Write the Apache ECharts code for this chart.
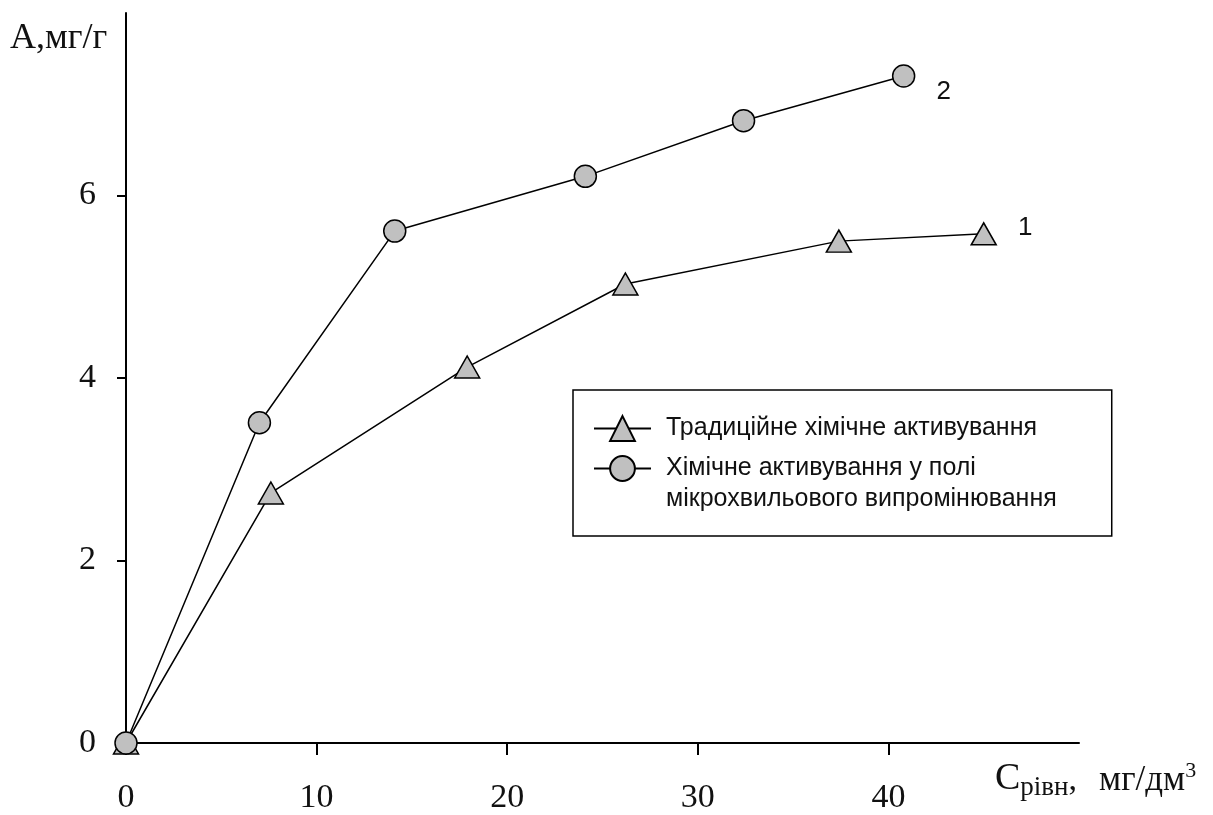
<!DOCTYPE html>
<html>
<head>
<meta charset="utf-8">
<script src="https://cdn.jsdelivr.net/npm/echarts@6/dist/echarts.min.js"></script>
<style>
html,body{margin:0;padding:0;background:#fff;}
#chart{width:1213px;height:815px;}
</style>
</head>
<body>
<div id="chart"></div>
<script>
// Data
var seriesNames = ['Традиційне хімічне активування', 'Хімічне активування у полі\nмікрохвильового випромінювання'];
var curveLabels = ['1', '2'];
var x1 = [0, 7.6, 17.9, 26.2, 37.4, 45.0];
var y1 = [0, 2.74, 4.12, 5.03, 5.50, 5.58];
var x2 = [0, 7.0, 14.1, 24.1, 32.4, 40.8];
var y2 = [0, 3.51, 5.61, 6.21, 6.82, 7.31];
var xTicks = [0, 10, 20, 30, 40];
var yTicks = [0, 2, 4, 6];

function pairs(xs, ys, lbl, off) {
  return xs.map(function (x, i) {
    var d = { value: [x, ys[i]] };
    if (i === xs.length - 1) {
      d.label = { show: true, formatter: lbl, position: 'right', offset: off,
        fontFamily: 'Liberation Sans', fontSize: 26, color: '#111' };
    }
    return d;
  });
}

var chart = echarts.init(document.getElementById('chart'), null, { renderer: 'canvas' });
var serif = 'Liberation Serif';
chart.setOption({
  animation: false,
  backgroundColor: '#fff',
  grid: { left: 126, top: 13, width: 953, height: 732, containLabel: false },
  xAxis: {
    type: 'value', min: 0, max: 50, interval: 10,
    axisLine: { show: true, onZero: false, lineStyle: { color: '#000', width: 2 } },
    axisTick: { show: true, length: 12, inside: false, customValues: xTicks, lineStyle: { color: '#000', width: 2 } },
    axisLabel: { customValues: xTicks, margin: 38, fontFamily: serif, fontSize: 34, color: '#111' },
    splitLine: { show: false }
  },
  yAxis: {
    type: 'value', min: 0, max: 8, interval: 2,
    axisLine: { show: true, onZero: false, lineStyle: { color: '#000', width: 2 } },
    axisTick: { show: true, length: 9, inside: false, customValues: yTicks, lineStyle: { color: '#000', width: 2 } },
    axisLabel: { customValues: yTicks, margin: 30, fontFamily: serif, fontSize: 34, color: '#111' },
    splitLine: { show: false }
  },
  legend: {
    orient: 'vertical',
    left: 573, top: 390,
    padding: [23, 55, 21, 20],
    itemGap: -22,
    itemWidth: 57, itemHeight: 31,
    borderColor: '#000', borderWidth: 1.5, borderRadius: 0,
    backgroundColor: '#fff',
    textStyle: { fontFamily: 'Liberation Sans', fontSize: 25, lineHeight: 31, color: '#111', padding: [0, 0, 0, 10] },
    formatter: function (name) {
      return name.indexOf('\n') >= 0 ? '\n' + name : name;
    },
    data: seriesNames
  },
  graphic: [
    { type: 'text', left: 10, top: 21, style: { text: 'А,мг/г', font: '36px "Liberation Serif"', fill: '#111' } },
    { type: 'text', left: 995, top: 760, style: {
      text: '{a|С}{b|рівн}{c|,}{e|мг/дм}{d|3}',
      rich: {
        a: { fontFamily: serif, fontSize: 38, fill: '#111', verticalAlign: 'bottom' },
        b: { fontFamily: serif, fontSize: 27, fill: '#111', verticalAlign: 'bottom', padding: [0, 0, -3, 0] },
        c: { fontFamily: serif, fontSize: 34, fill: '#111', verticalAlign: 'bottom' },
        e: { fontFamily: serif, fontSize: 35, fill: '#111', verticalAlign: 'bottom', padding: [0, 0, 0, 22] },
        d: { fontFamily: serif, fontSize: 22, fill: '#111', verticalAlign: 'top' }
      }
    } }
  ],
  series: [
    {
      name: seriesNames[0], type: 'line',
      data: pairs(x1, y1, curveLabels[0], [16, -6]),
      symbol: 'triangle', symbolSize: [25, 22],
      lineStyle: { color: '#000', width: 1.5 },
      itemStyle: { color: '#c0c0c0', borderColor: '#000', borderWidth: 1.5 },
      clip: false, z: 2
    },
    {
      name: seriesNames[1], type: 'line',
      data: pairs(x2, y2, curveLabels[1], [16, 16]),
      symbol: 'circle', symbolSize: 22,
      lineStyle: { color: '#000', width: 1.5 },
      itemStyle: { color: '#c0c0c0', borderColor: '#000', borderWidth: 1.5 },
      clip: false, z: 3
    }
  ]
});
</script>
</body>
</html>
